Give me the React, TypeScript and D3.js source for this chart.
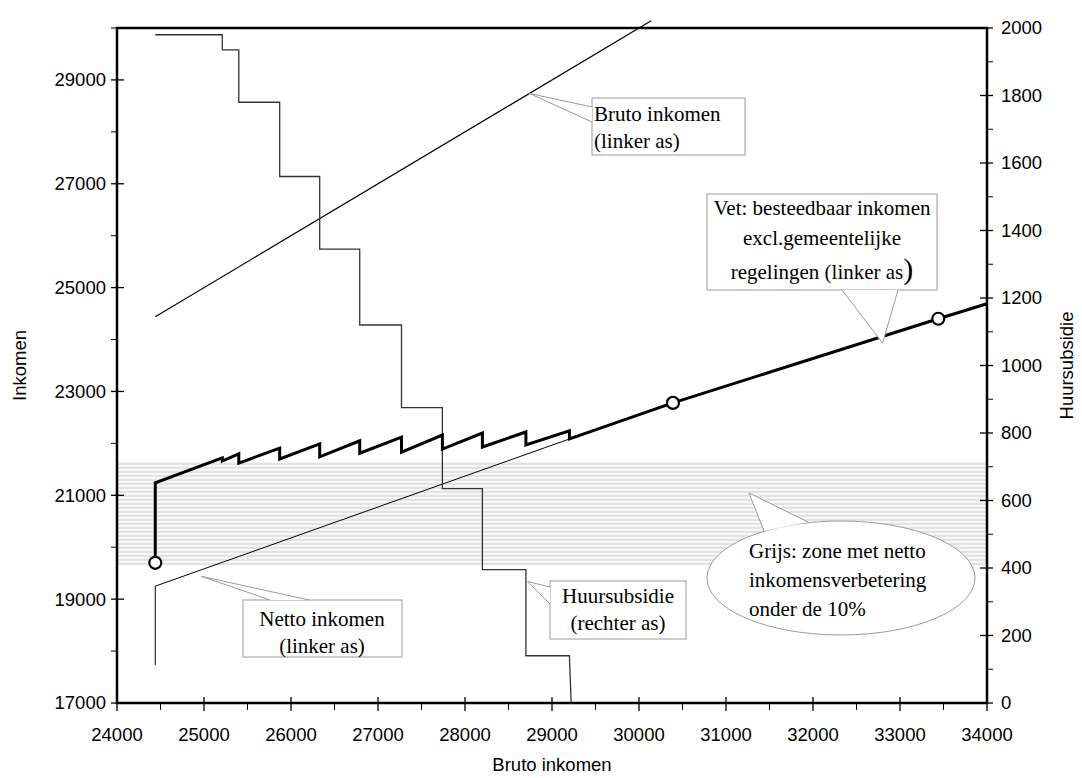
import React from "react";
import * as d3 from "d3";

// x breakpoints of the rent-subsidy schedule (bruto inkomen)
const breakX = [24440, 25210, 25400, 25870, 26330, 26790, 27270, 27740, 28200, 28700, 29200];
// huursubsidie level valid from each breakpoint (rechter as)
const huurLevels = [1980, 1935, 1780, 1560, 1345, 1120, 875, 635, 395, 140];
const huurEndX = 29220;

// besteedbaar inkomen (bold line, linker as)
const besteedStart = [19700, 21240];
const toothTop = [21720, 21800, 21910, 21990, 22050, 22120, 22160, 22200, 22220, 22240];
const toothBottom = [21660, 21620, 21700, 21740, 21810, 21830, 21890, 21930, 21970, 22085];
const besteedTailX = [30390, 33440, 34000];
const besteedTailY = [22780, 24400, 24690];
const markerX = [24440, 30390, 33440];
const markerY = [19700, 22780, 24400];

// netto inkomen (linker as)
const nettoX = [24440, 24440, 29200];
const nettoY = [17730, 19250, 22085];

// bruto inkomen (linker as), y = x
const brutoX = [24440, 30140];

// grey zone: netto improvement below 10%
const zoneRange = [19650, 21630];

const xTicks = d3.range(24000, 34001, 1000);
const xMinor = d3.range(24500, 34000, 1000);
const leftTicks = d3.range(17000, 29001, 2000);
const leftMinor = d3.range(18000, 30001, 2000);
const rightTicks = d3.range(0, 2001, 200);
const rightMinor = d3.range(100, 2000, 200);

const W = 1082;
const H = 778;
const M = { left: 117, right: 987, top: 28, bottom: 703 };

const sans = "'Liberation Sans', Arial, sans-serif";
const serif = "'Liberation Serif', 'Times New Roman', serif";

export default function App() {
  const x = d3.scaleLinear().domain([24000, 34000]).range([M.left, M.right]);
  const yL = d3.scaleLinear().domain([17000, 30000]).range([M.bottom, M.top]);
  const yR = d3.scaleLinear().domain([0, 2000]).range([M.bottom, M.top]);

  const lineL = d3.line<[number, number]>().x(d => x(d[0])).y(d => yL(d[1]));
  const lineR = d3.line<[number, number]>().x(d => x(d[0])).y(d => yR(d[1]));

  // huursubsidie steps
  const huurPts: [number, number][] = [];
  huurLevels.forEach((v, i) => {
    huurPts.push([breakX[i], v]);
    huurPts.push([breakX[i + 1], v]);
  });
  huurPts.push([huurEndX, 0]);

  // besteedbaar sawtooth
  const besteedPts: [number, number][] = [
    [breakX[0], besteedStart[0]],
    [breakX[0], besteedStart[1]],
  ];
  toothTop.forEach((t, i) => {
    besteedPts.push([breakX[i + 1], t]);
    besteedPts.push([breakX[i + 1], toothBottom[i]]);
  });
  besteedTailX.forEach((bx, i) => besteedPts.push([bx, besteedTailY[i]]));

  const nettoPts = nettoX.map((nx, i) => [nx, nettoY[i]] as [number, number]);
  const brutoPts = brutoX.map(b => [b, b] as [number, number]);

  const zoneTop = yL(zoneRange[1]);
  const zoneBot = yL(zoneRange[0]);
  const stripes = d3.range(zoneTop, zoneBot, 4);

  const grey = "#9a9a9a";

  return (
    <svg width={W} height={H} style={{ position: "absolute", left: 0, top: 0 }}>
      <rect width={W} height={H} fill="#fff" />

      {/* grey zone */}
      <g>
        {stripes.map((s, i) => (
          <rect key={i} x={M.left} y={s} width={M.right - M.left} height={2.6} fill="#e3e3e3" />
        ))}
      </g>

      {/* lines */}
      <path d={lineL(nettoPts) || ""} fill="none" stroke="#000" strokeWidth={1} />
      <path d={lineL(brutoPts) || ""} fill="none" stroke="#000" strokeWidth={1.2} />
      <path d={lineR(huurPts) || ""} fill="none" stroke="#333" strokeWidth={1.3} />
      <path d={lineL(besteedPts) || ""} fill="none" stroke="#000" strokeWidth={3} strokeLinejoin="miter" />
      {markerX.map((mx, i) => (
        <circle key={i} cx={x(mx)} cy={yL(markerY[i])} r={6} fill="#fff" stroke="#000" strokeWidth={2.2} />
      ))}

      {/* frame */}
      <rect x={M.left} y={M.top} width={M.right - M.left} height={M.bottom - M.top} fill="none" stroke="#000" strokeWidth={2.5} />

      {/* axes */}
      <g fontFamily={sans} fontSize={18.5} fill="#000">
        {xTicks.map(t => (
          <g key={t}>
            <line x1={x(t)} x2={x(t)} y1={M.bottom - 6} y2={M.bottom + 8} stroke="#000" strokeWidth={1.3} />
            <text x={x(t)} y={741} textAnchor="middle">{t}</text>
          </g>
        ))}
        {xMinor.map(t => (
          <line key={t} x1={x(t)} x2={x(t)} y1={M.bottom} y2={M.bottom + 7} stroke="#000" strokeWidth={1} />
        ))}
        {leftTicks.map(t => (
          <g key={t}>
            <line x1={M.left - 6} x2={M.left + 7} y1={yL(t)} y2={yL(t)} stroke="#000" strokeWidth={1.3} />
            <text x={106} y={yL(t)} dy="0.35em" textAnchor="end">{t}</text>
          </g>
        ))}
        {leftMinor.map(t => (
          <line key={t} x1={M.left - 6} x2={M.left} y1={yL(t)} y2={yL(t)} stroke="#000" strokeWidth={1} />
        ))}
        {rightTicks.map(t => (
          <g key={t}>
            <line x1={M.right - 7} x2={M.right + 6} y1={yR(t)} y2={yR(t)} stroke="#000" strokeWidth={1.3} />
            <text x={1001} y={yR(t)} dy="0.35em" textAnchor="start">{t}</text>
          </g>
        ))}
        {rightMinor.map(t => (
          <line key={t} x1={M.right} x2={M.right + 6} y1={yR(t)} y2={yR(t)} stroke="#000" strokeWidth={1} />
        ))}
        <text x={552} y={771} textAnchor="middle">Bruto inkomen</text>
        <text transform={`translate(26,${(M.top + M.bottom) / 2}) rotate(-90)`} textAnchor="middle">Inkomen</text>
        <text transform={`translate(1073,${(M.top + M.bottom) / 2}) rotate(-90)`} textAnchor="middle">Huursubsidie</text>
      </g>

      {/* annotations */}
      <g fontFamily={serif} fontSize={21} fill="#000">
        {/* Bruto inkomen */}
        <rect x={592} y={98} width={153} height={57} fill="#fff" stroke={grey} strokeWidth={1} />
        <path d={`M592,107 L${x(28740)},${yL(28740)} L592,122`} fill="#fff" stroke={grey} strokeWidth={1} />
        <text x={594} y={121}>Bruto inkomen</text>
        <text x={594} y={148}>(linker as)</text>

        {/* Vet */}
        <rect x={707} y={194} width={230} height={96} fill="#fff" stroke={grey} strokeWidth={1} />
        <path d={`M842,290 L${x(32800)},${yL(23930)} L898,290`} fill="#fff" stroke={grey} strokeWidth={1} />
        <text x={822} y={215} textAnchor="middle">Vet: besteedbaar inkomen</text>
        <text x={822} y={245} textAnchor="middle">excl.gemeentelijke</text>
        <text x={822} y={279} textAnchor="middle">
          regelingen (linker as<tspan fontSize={30}>)</tspan>
        </text>

        {/* Netto */}
        <rect x={243} y={600} width={159} height={57} fill="#fff" stroke={grey} strokeWidth={1} />
        <path d={`M270,600 L${x(24970)},${yL(19440)} L309,600`} fill="#fff" stroke={grey} strokeWidth={1} />
        <text x={322} y={626} textAnchor="middle">Netto inkomen</text>
        <text x={322} y={653} textAnchor="middle">(linker as)</text>

        {/* Huursubsidie */}
        <rect x={550} y={581} width={136} height={58} fill="#fff" stroke={grey} strokeWidth={1} />
        <path d={`M550,587 L${x(28720)},${yR(360)} L550,604`} fill="#fff" stroke={grey} strokeWidth={1} />
        <text x={618} y={603} textAnchor="middle">Huursubsidie</text>
        <text x={618} y={630} textAnchor="middle">(rechter as)</text>

        {/* Grijs */}
        <ellipse cx={841} cy={578} rx={134} ry={57} fill="#fff" stroke={grey} strokeWidth={1} />
        <path d="M764,531 L749,493 L808,522" fill="#fff" stroke={grey} strokeWidth={1} />
        <text x={749} y={558}>Grijs: zone met netto</text>
        <text x={749} y={587}>inkomensverbetering</text>
        <text x={749} y={616}>onder de 10%</text>
      </g>
    </svg>
  );
}
